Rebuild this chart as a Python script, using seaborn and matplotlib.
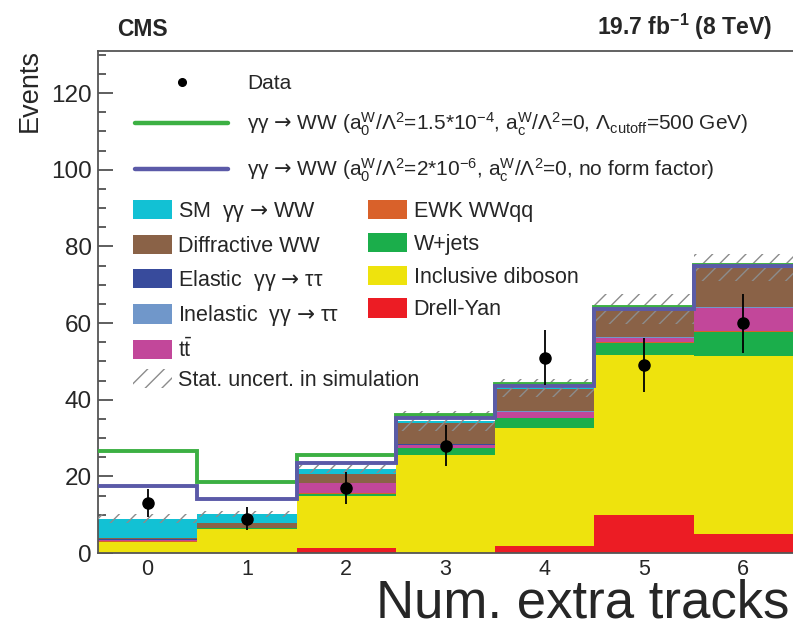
import numpy as np
import pandas as pd
import matplotlib
matplotlib.use("Agg")
import matplotlib.pyplot as plt
import seaborn as sns
from matplotlib.patches import Patch
from matplotlib.lines import Line2D
from matplotlib.ticker import MultipleLocator

# ---------------- data ----------------
tracks = [0, 1, 2, 3, 4, 5, 6]
bin_edges = [-0.5, 0.5, 1.5, 2.5, 3.5, 4.5, 5.5, 6.5]

sm_ww            = [5.2, 2.3, 1.2, 0.4, 0.3, 0.2, 0.2]
diffractive_ww   = [0.1, 1.3, 2.3, 5.6, 5.6, 7.1, 10.2]
elastic_tautau   = [0.2, 0.05, 0.05, 0.05, 0.0, 0.0, 0.0]
inelastic_tautau = [0.2, 0.1, 0.15, 0.2, 0.2, 0.2, 0.2]
ttbar            = [0.2, 0.1, 2.6, 0.6, 1.6, 1.1, 6.1]
ewk_wwqq         = [0.1, 0.0, 0.05, 0.1, 0.1, 0.1, 0.1]
w_jets           = [0.2, 0.2, 0.5, 1.9, 2.7, 3.2, 6.4]
incl_diboson     = [2.7, 6.2, 13.8, 25.5, 30.8, 41.9, 46.5]
drell_yan        = [0.1, 0.0, 1.2, 0.0, 1.7, 9.8, 4.9]

stat_unc  = [1.1, 0.8, 1.0, 2.6, 2.4, 3.9, 3.5]
data      = [13, 9, 17, 28, 51, 49, 60]
data_err  = [3.6, 3.0, 4.1, 5.3, 7.1, 7.0, 7.7]
aqgc_cutoff = [26.5, 18.4, 25.6, 36.1, 44.2, 64.2, 75.2]
aqgc_noff   = [17.4, 14.0, 23.4, 35.1, 43.5, 63.8, 74.9]

ARROW = r"$\mathsf{→}$"
process_labels = [
    "SM  γγ " + ARROW + " WW", "Diffractive WW", "Elastic  γγ " + ARROW + " ττ",
    "Inelastic  γγ " + ARROW + " ττ",
    r"t$\bar{\mathrm{t}}$", "EWK WWqq", "W+jets", "Inclusive diboson", "Drell-Yan",
]
process_values = [sm_ww, diffractive_ww, elastic_tautau, inelastic_tautau,
                  ttbar, ewk_wwqq, w_jets, incl_diboson, drell_yan]
process_colors = ["#12c1d4", "#8a6247", "#384b9c", "#7097ca", "#c2479a",
                  "#d9612a", "#1bae4b", "#eee30d", "#ec1c24"]

# ---------------- style ----------------
sns.set_style("ticks")
plt.rcParams["font.family"] = ["Liberation Sans", "DejaVu Sans"]
plt.rcParams["mathtext.fontset"] = "custom"
plt.rcParams["mathtext.rm"] = "Liberation Sans"
plt.rcParams["mathtext.it"] = "Liberation Sans:italic"
plt.rcParams["mathtext.bf"] = "Liberation Sans:bold"
plt.rcParams["mathtext.sf"] = "DejaVu Sans"
plt.rcParams["hatch.linewidth"] = 1.0

fig = plt.figure(figsize=(7.93, 6.28), dpi=100)
ax = fig.add_axes([98 / 793, 1 - 553 / 628, 1 - 98 / 793, (553 - 51) / 628])

rows = []
for lab, vals in zip(process_labels, process_values):
    for t, v in zip(tracks, vals):
        rows.append({"tracks": t, "process": lab, "events": v})
df = pd.DataFrame(rows)

sns.histplot(data=df, x="tracks", weights="events", hue="process",
             hue_order=process_labels, palette=process_colors,
             multiple="stack", bins=bin_edges, element="bars",
             linewidth=0, alpha=1, legend=False, ax=ax, zorder=2)

total = np.sum(np.array(process_values), axis=0)
unc = np.array(stat_unc)
ax.bar(tracks, 2 * unc, bottom=total - unc, width=1.0, fill=False,
       hatch="//", edgecolor="#8c8c8c", linewidth=0, zorder=3)

green_c = "#3cb043"
blue_c = "#5b5aa8"
ax.stairs(aqgc_cutoff, bin_edges, color=green_c, lw=2.8, baseline=None, zorder=4)
ax.stairs(aqgc_noff, bin_edges, color=blue_c, lw=2.8, baseline=None, zorder=5)

ax.errorbar(tracks, data, yerr=data_err, fmt="o", color="black", ms=8,
            elinewidth=1.3, capsize=0, zorder=6)

# ---------------- axes ----------------
ax.set_xlim(-0.5, 6.5)
ax.set_ylim(0, 131)
ax.set_xlabel("")
ax.set_ylabel("")
ax.xaxis.set_major_locator(MultipleLocator(1))
ax.xaxis.set_minor_locator(MultipleLocator(0.2))
ax.yaxis.set_major_locator(MultipleLocator(20))
ax.yaxis.set_minor_locator(MultipleLocator(5))
ax.tick_params(which="both", direction="in", top=False, right=False,
               color="#333333", width=1.1)
ax.tick_params(which="major", length=11)
ax.tick_params(which="minor", length=5.5)
ax.tick_params(axis="x", labelsize=15.5, pad=4.5)
ax.tick_params(axis="y", labelsize=17.5, pad=4.5)
for side in ["left", "bottom", "top"]:
    ax.spines[side].set_color("#555555")
    ax.spines[side].set_linewidth(1.3)
    ax.spines[side].set_visible(True)
ax.spines["right"].set_visible(False)

# ---------------- legends ----------------
h_top = [Line2D([], [], marker="o", color="black", ls="none", ms=5.5),
         Line2D([], [], color=green_c, lw=3.2),
         Line2D([], [], color=blue_c, lw=3.2)]
l_top = ["Data",
         "γγ " + ARROW + r" WW (a$_{0}^{\mathrm{W}}$/Λ$^{2}$=1.5*10$^{-4}$, a$_{\mathrm{c}}^{\mathrm{W}}$/Λ$^{2}$=0, Λ$_{\mathrm{cutoff}}$=500 GeV)",
         "γγ " + ARROW + r" WW (a$_{0}^{\mathrm{W}}$/Λ$^{2}$=2*10$^{-6}$, a$_{\mathrm{c}}^{\mathrm{W}}$/Λ$^{2}$=0, no form factor)"]
leg1 = ax.legend(h_top, l_top, loc="upper left",
                 bbox_to_anchor=(135 / 793, 1 - 74 / 628),
                 bbox_transform=fig.transFigure, frameon=False, fontsize=15,
                 handlelength=4.47, handletextpad=0.9, labelspacing=0.86,
                 borderpad=0, borderaxespad=0)
ax.add_artist(leg1)

h_mid = [Patch(facecolor=c, edgecolor="none") for c in process_colors]
leg2 = ax.legend(h_mid, process_labels, loc="upper left", ncol=2,
                 bbox_to_anchor=(133 / 793, 1 - 200 / 628),
                 bbox_transform=fig.transFigure, frameon=False, fontsize=15.5,
                 handlelength=1.81, handleheight=1.0, handletextpad=0.3,
                 columnspacing=1.33, labelspacing=0.5,
                 borderpad=0, borderaxespad=0)
ax.add_artist(leg2)

h_unc = [Patch(facecolor="none", edgecolor="#8c8c8c", hatch="//", linewidth=0)]
leg3 = ax.legend(h_unc, ["Stat. uncert. in simulation"], loc="upper left",
                 bbox_to_anchor=(133 / 793, 1 - 369 / 628),
                 bbox_transform=fig.transFigure, frameon=False, fontsize=15.5,
                 handlelength=1.81, handleheight=1.0, handletextpad=0.3,
                 borderpad=0, borderaxespad=0)

# ---------------- texts ----------------
fig.text(117 / 793, 1 - 36 / 628, "CMS", fontsize=16.5, weight="bold",
         ha="left", va="baseline")
fig.text(772 / 793, 1 - 35 / 628, r"19.7 fb$^{\mathbf{-1}}$ (8 TeV)",
         fontsize=16.5, weight="bold", ha="right", va="baseline")
fig.text(30 / 793, 1 - 91 / 628, "Events", fontsize=19.5, rotation=90,
         ha="center", va="center")
fig.text(789 / 793, 1 - 617 / 628, "Num. extra tracks", fontsize=38,
         ha="right", va="baseline")

fig.savefig("out.png", dpi=100)
